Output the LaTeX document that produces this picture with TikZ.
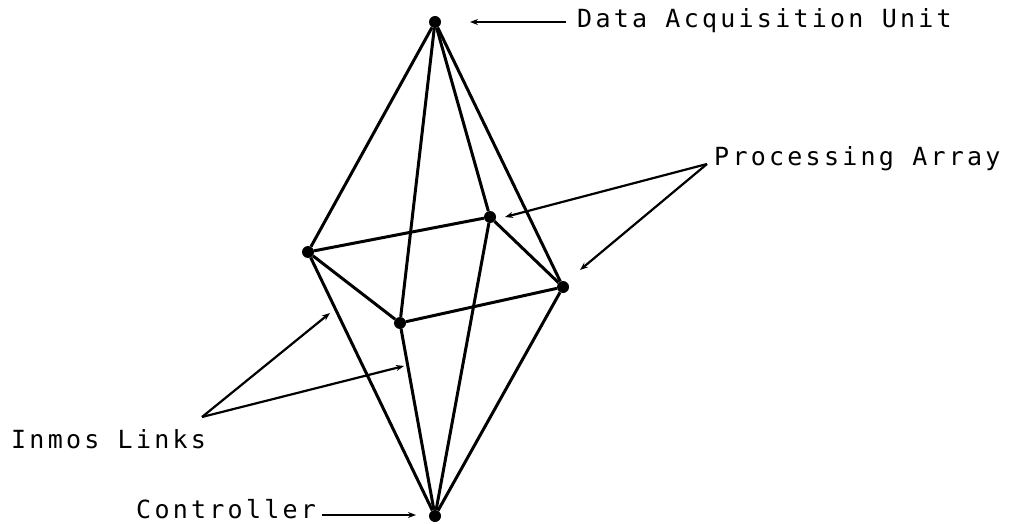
\documentclass[tikz,border=0pt]{standalone}
\usepackage{fontspec}
\newfontfamily\plotfont[LetterSpace=13]{DejaVu Sans Mono}
\usetikzlibrary{arrows.meta}
\begin{document}
\begin{tikzpicture}[x=1pt,y=-1pt,
  vertex/.style={circle,fill=black,inner sep=0pt,minimum size=12pt},
  edge/.style={line width=3pt},
  pointer/.style={line width=2.2pt,-{Stealth[length=8pt,width=6pt]}},
  lbl/.style={inner sep=0pt,anchor=base west,font=\plotfont\fontsize{25}{29}\selectfont}]
\useasboundingbox (0,0) rectangle (1012,524);
% vertices
\node[vertex] (top) at (435,22) {};
\node[vertex] (left) at (308,252) {};
\node[vertex] (back) at (490,217) {};
\node[vertex] (right) at (563,287) {};
\node[vertex] (front) at (400,323) {};
\node[vertex] (bottom) at (435,516) {};
% edges
\foreach \v in {left,back,right,front}{
  \draw[edge] (top) -- (\v);
  \draw[edge] (bottom) -- (\v);
}
\draw[edge] (left) -- (back) -- (right) -- (front) -- (left);
% labels
\node[lbl] (dau) at (577,28) {Data Acquisition Unit};
\node[lbl] (pa) at (714,165) {Processing Array};
\node[lbl] (il) at (11,448) {Inmos Links};
\node[lbl] (ctl) at (136,518) {Controller};
% pointer coordinates
\coordinate (dauTail) at (566,22);
\coordinate (dauTip) at (470,22);
\coordinate (paV) at (707,164);
\coordinate (paTip1) at (505,217);
\coordinate (paTip2) at (580,270);
\coordinate (ilV) at (202,417);
\coordinate (ilTip1) at (330,313);
\coordinate (ilTip2) at (404,366);
\coordinate (ctlTail) at (322,515);
\coordinate (ctlTip) at (416,515);
% pointers
\draw[pointer] (dauTail) -- (dauTip);
\draw[pointer] (paV) -- (paTip1);
\draw[pointer] (paV) -- (paTip2);
\draw[pointer] (ilV) -- (ilTip1);
\draw[pointer] (ilV) -- (ilTip2);
\draw[pointer] (ctlTail) -- (ctlTip);
\end{tikzpicture}
\end{document}
